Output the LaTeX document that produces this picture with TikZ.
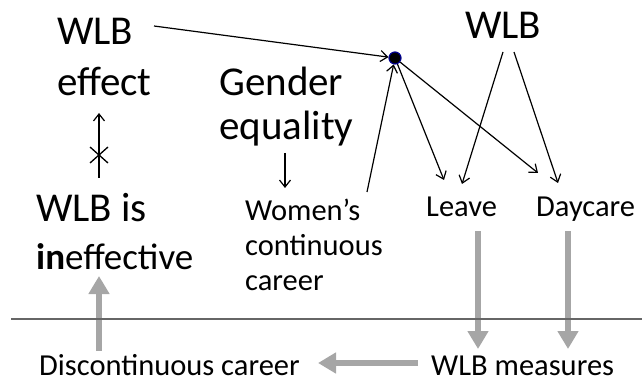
\documentclass[tikz,border=0pt]{standalone}
\usepackage{fontspec}
\setmainfont{Carlito}
\usepackage{tikz}
\usetikzlibrary{arrows.meta}
\usetikzlibrary{calc}

\tikzset{
  bigtxt/.style={anchor=base west,inner sep=0pt,font=\fontsize{41}{48}\selectfont},
  smalltxt/.style={anchor=base west,inner sep=0pt,align=left,font=\fontsize{30.5}{35}\selectfont},
  thin arrow/.style={line width=1.2pt,-{Straight Barb[length=7pt,width=11pt]}},
  fat arrow/.style={line width=6pt,draw=black!35,-{Triangle[width=20pt,length=18pt]}},
  hubdot/.style={circle,fill=black,draw=blue!55!black,line width=1.2pt,minimum size=12pt,inner sep=0pt}
}

\begin{document}
\begin{tikzpicture}[x=1pt,y=-1pt]
    \useasboundingbox (0,0) rectangle (642,382);
    % 文字
    \node[bigtxt] (wlbA) at (57,45) {WLB};
    \node[bigtxt] (effect) at (57,96) {effect};
    \node[bigtxt] (gender) at (219,96) {Gender};
    \node[bigtxt] (equality) at (219,140) {equality};
    \node[bigtxt] (wlbis) at (36,221) {WLB is};
    \node[bigtxt,font=\fontsize{37}{44}\selectfont] (ineff) at (36,269) {\textbf{in}effective};
    \node[bigtxt] (wlbB) at (465,39) {WLB};
    \node[smalltxt] (women) at (245,290) {Women’s\\continuous\\career};
    \node[smalltxt] (leave) at (426,216) {Leave};
    \node[smalltxt] (daycare) at (536,216) {Daycare};
    \node[smalltxt] (disc) at (39,375) {Discontinuous career};
    \node[smalltxt] (measures) at (431,375) {WLB measures};

    \node[hubdot] (hub) at (395,58) {};

    \coordinate (wA) at (154,26);
    \coordinate (wC) at (367,192);
    \coordinate (wB1) at (503,52);
    \coordinate (wB2) at (514,52);
    \coordinate (toLeave1) at (444,180);
    \coordinate (toLeave2) at (462,184);
    \coordinate (toDay1) at (538,173);
    \coordinate (toDay2) at (558,183);

    % 细箭头
    \draw[thin arrow] (wA) -- (hub);
    \draw[thin arrow] (wC) -- (hub);
    \draw[thin arrow] (hub) -- (toLeave1);
    \draw[thin arrow] (hub) -- (toDay1);
    \draw[thin arrow] (wB1) -- (toLeave2);
    \draw[thin arrow] (wB2) -- (toDay2);

    \coordinate (upS) at (99,178);
    \coordinate (upE) at (99,113);
    \coordinate (cross) at (99,155);
    \draw[thin arrow] (upS) -- (upE);
    \draw[line width=1.3pt] ($(cross)+(-9,-8)$) -- ($(cross)+(9,8)$)
        ($(cross)+(-9,8)$) -- ($(cross)+(9,-8)$);
    \coordinate (dnS) at (285,153);
    \coordinate (dnE) at (285,188);
    \draw[thin arrow] (dnS) -- (dnE);

    % 灰色粗箭头
    \draw[fat arrow] (478,231) -- (478,349);
    \draw[fat arrow] (568,231) -- (568,349);
    \draw[fat arrow] (418,363) -- (318,363);
    \draw[fat arrow] (99,351) -- (99,276);

    % 分隔线
    \draw[black!60,line width=1.3pt] (11,319) -- (642,319);
\end{tikzpicture}
\end{document}
